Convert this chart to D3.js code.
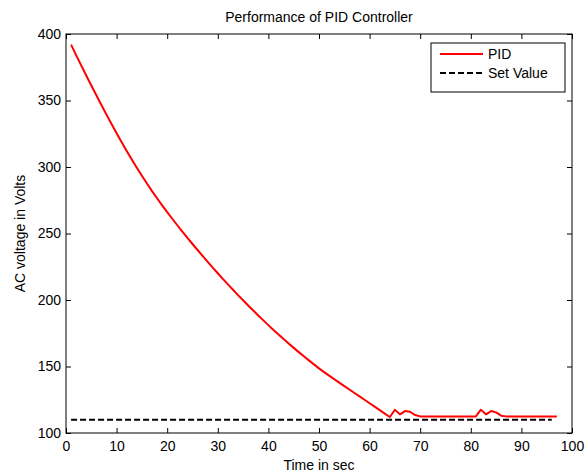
<!DOCTYPE html>
<html>
<head>
<meta charset="utf-8">
<script src="https://cdn.jsdelivr.net/npm/d3@7"></script>
<style>
  body { margin: 0; background: #fff; }
  text { font-family: "Liberation Sans", Arial, sans-serif; fill: #000; }
</style>
</head>
<body>
<script>
// time in seconds and PID output
var pidTime = d3.range(1, 98);
var pidVolts = [
    392, 384.1, 376.4, 368.8, 361.3, 353.9, 346.6, 339.4, 332.3, 325.4,
    318.6, 312, 305.6, 299.4, 293.4, 287.6, 281.9, 276.5, 271.2, 266.1,
    261.1, 256.2, 251.4, 246.7, 242.1, 237.6, 233.1, 228.7, 224.4, 220.1,
    215.9, 211.8, 207.7, 203.7, 199.8, 195.9, 192.1, 188.4, 184.7, 181.1,
    177.5, 174.1, 170.6, 167.3, 164, 160.8, 157.7, 154.6, 151.6, 148.6,
    145.8, 143.1, 140.5, 137.9, 135.3, 132.7, 130.1, 127.5, 125, 122.4,
    119.8, 117.2, 114.6, 112, 117.5, 114, 116.5, 116, 113.5, 112.5,
    112.5, 112.5, 112.5, 112.5, 112.5, 112.5, 112.5, 112.5, 112.5, 112.5,
    112.5, 117.5, 114, 116.5, 115.5, 113, 112.5, 112.5, 112.5, 112.5,
    112.5, 112.5, 112.5, 112.5, 112.5, 112.5, 112.5
];
var setTime = [1, 96];
var setVolts = [110, 110];

var xTicks = [0, 10, 20, 30, 40, 50, 60, 70, 80, 90, 100];
var yTicks = [100, 150, 200, 250, 300, 350, 400];

var svgWidth = 587,
    svgHeight = 476;
var margin = { top: 34, right: 15, bottom: 43, left: 66 };
var width = svgWidth - margin.left - margin.right,
    height = svgHeight - margin.top - margin.bottom;
var fontSize = "14px";

var svg = d3.select('body').append('svg')
    .attr("width", svgWidth)
    .attr("height", svgHeight);

var g = svg.append("g")
    .attr("transform", "translate(" + margin.left + "," + margin.top + ")");

var x = d3.scaleLinear().domain([0, 100]).range([0, width]);
var y = d3.scaleLinear().domain([100, 400]).range([height, 0]);

// axes with inward ticks, mirrored on top / right
function styleAxis(sel) {
    sel.selectAll("text")
        .style("font-family", "Liberation Sans, Arial, sans-serif")
        .style("font-size", fontSize)
        .attr("fill", "#000");
    sel.selectAll("line").attr("stroke", "#000");
    sel.select(".domain").remove();
}

g.append("g")
    .attr("transform", "translate(0," + height + ")")
    .call(d3.axisBottom(x).tickValues(xTicks).tickSizeInner(-5).tickSizeOuter(0).tickPadding(8))
    .call(styleAxis);
g.append("g")
    .call(d3.axisTop(x).tickValues(xTicks).tickSizeInner(-5).tickSizeOuter(0).tickFormat(""))
    .call(styleAxis);
g.append("g")
    .call(d3.axisLeft(y).tickValues(yTicks).tickSizeInner(-5).tickSizeOuter(0).tickPadding(5))
    .call(styleAxis);
g.append("g")
    .attr("transform", "translate(" + width + ",0)")
    .call(d3.axisRight(y).tickValues(yTicks).tickSizeInner(-5).tickSizeOuter(0).tickFormat(""))
    .call(styleAxis);

g.append("rect")
    .attr("width", width)
    .attr("height", height)
    .attr("fill", "none")
    .attr("stroke", "#000")
    .attr("stroke-width", 1);

var line = d3.line()
    .x(d => x(d[0]))
    .y(d => y(d[1]));

g.append("path")
    .datum(d3.zip(setTime, setVolts))
    .attr("fill", "none")
    .attr("stroke", "#000")
    .attr("stroke-width", 2)
    .attr("stroke-dasharray", "6,3")
    .attr("d", line);

g.append("path")
    .datum(d3.zip(pidTime, pidVolts))
    .attr("fill", "none")
    .attr("stroke", "#ff0000")
    .attr("stroke-width", 2)
    .attr("stroke-linejoin", "round")
    .attr("d", line);

// titles
svg.append("text")
    .attr("x", margin.left + width / 2)
    .attr("y", 22)
    .attr("text-anchor", "middle")
    .style("font-size", fontSize)
    .text("Performance of PID Controller");

svg.append("text")
    .attr("x", margin.left + width / 2)
    .attr("y", 470)
    .attr("text-anchor", "middle")
    .style("font-size", fontSize)
    .text("Time in sec");

svg.append("text")
    .attr("transform", "translate(25," + (margin.top + height / 2) + ") rotate(-90)")
    .attr("text-anchor", "middle")
    .style("font-size", fontSize)
    .text("AC voltage in Volts");

// legend
var legend = svg.append("g").attr("transform", "translate(431,43)");
legend.append("rect")
    .attr("width", 134)
    .attr("height", 49)
    .attr("fill", "#fff")
    .attr("stroke", "#000")
    .attr("stroke-width", 1);
var items = [
    { name: "PID", color: "#ff0000", dash: null },
    { name: "Set Value", color: "#000", dash: "6,3" }
];
items.forEach(function (d, i) {
    var ly = 11 + i * 19;
    legend.append("line")
        .attr("x1", 9).attr("x2", 52)
        .attr("y1", ly).attr("y2", ly)
        .attr("stroke", d.color)
        .attr("stroke-width", 2)
        .attr("stroke-dasharray", d.dash);
    legend.append("text")
        .attr("x", 57)
        .attr("y", ly + 5)
        .style("font-size", fontSize)
        .text(d.name);
});
</script>
</body>
</html>
